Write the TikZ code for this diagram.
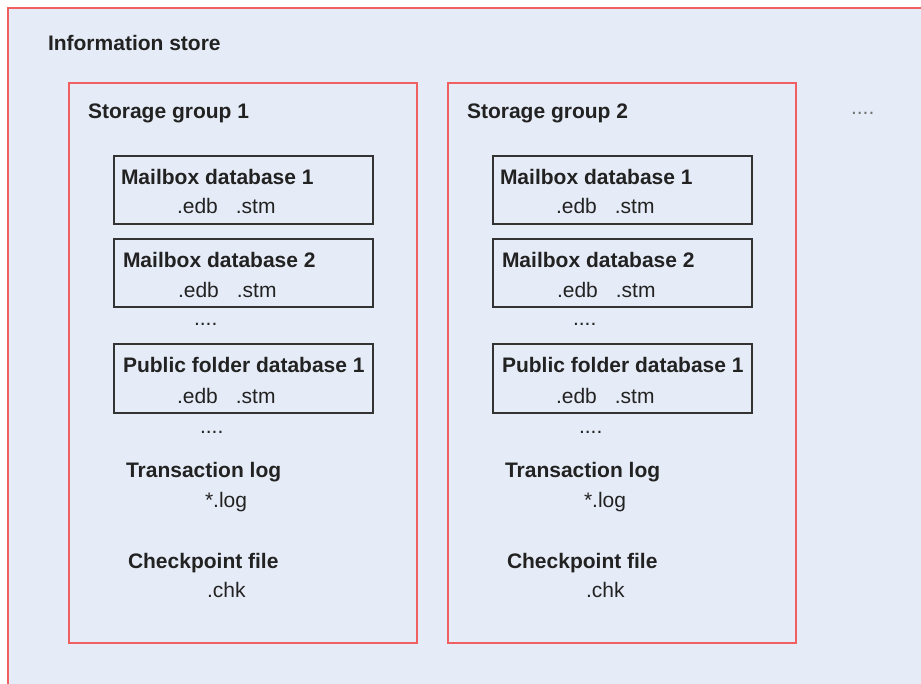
\documentclass[tikz,border=0pt]{standalone}
\usepackage{fontspec}
\setmainfont{Liberation Sans}
\definecolor{storefill}{RGB}{230,236,247}
\definecolor{framered}{RGB}{240,96,96}
\definecolor{ink}{RGB}{34,34,34}
\tikzset{every node/.style={font=\fontsize{21}{25}\selectfont,text=ink,inner sep=0pt,outer sep=0pt}}
\tikzset{head/.style={font=\fontsize{21}{25}\selectfont\bfseries,anchor=base west}}
\tikzset{ext/.style={anchor=base west}}
\tikzset{groupbox/.style={draw=framered,line width=2.2pt,anchor=north west,minimum width=348pt,minimum height=560pt}}
\tikzset{dbbox/.style={draw=black!80,line width=1.6pt,anchor=north west,minimum width=259pt}}
\newcommand{\files}{.edb\hspace{18pt}.stm}

\begin{document}
\begin{tikzpicture}[x=1pt,y=-1pt]

\useasboundingbox (0,0) rectangle (921,684);
\clip (0,0) rectangle (921,684);

% information store
\fill[storefill] (8,8) rectangle (930,690);
\draw[framered,line width=2.2pt] (930,8) -- (8,8) -- (8,690);
\node[head] (store) at (48,51) {Information store};
\node[ext,text=black!55] (more) at (851,115) {....};

% storage groups
\foreach \g/\dx in {1/0,2/379}{
  \begin{scope}[xshift=\dx pt]
    \node[groupbox] (sg\g) at (69,83) {};
    \node[head] (sgname\g) at (88,119) {Storage group \g};

    \node[dbbox,minimum height=68pt] (mb1-\g) at (114,156) {};
    \node[head] (mbname1-\g) at (121,185) {Mailbox database 1};
    \node[ext] (mbfiles1-\g) at (177,214) {\files};

    \node[dbbox,minimum height=68pt] (mb2-\g) at (114,239) {};
    \node[head] (mbname2-\g) at (123,268) {Mailbox database 2};
    \node[ext] (mbfiles2-\g) at (178,298) {\files};
    \node[ext] (mbmore-\g) at (194,326) {....};

    \node[dbbox,minimum height=69pt] (pf1-\g) at (114,344) {};
    \node[head] (pfname1-\g) at (123,373) {Public folder database 1};
    \node[ext] (pffiles1-\g) at (177,403) {\files};
    \node[ext] (pfmore-\g) at (200,433) {....};

    \node[head] (log-\g) at (126,477) {Transaction log};
    \node[ext] (logfiles-\g) at (205,507) {*.log};
    \node[head] (chk-\g) at (128,568) {Checkpoint file};
    \node[ext] (chkfile-\g) at (207,597) {.chk};
  \end{scope}
}

\end{tikzpicture}
\end{document}
